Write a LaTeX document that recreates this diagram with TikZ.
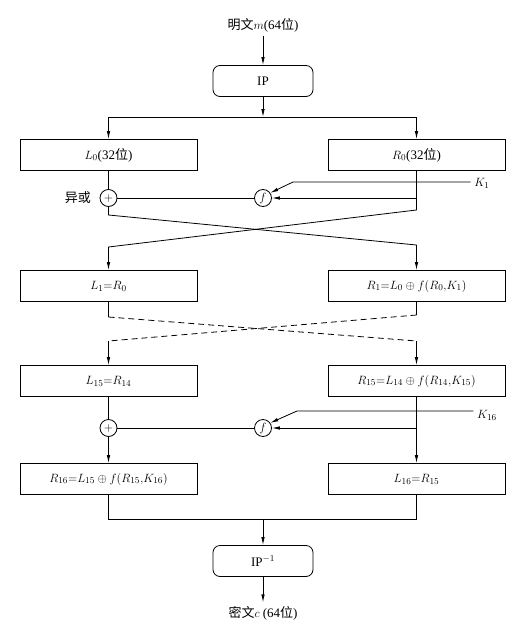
\documentclass[tikz,border=0pt]{standalone}
\usepackage{fontspec}
\setmainfont{Liberation Serif}
\newfontfamily\cjk{Noto Sans CJK SC}
\usetikzlibrary{arrows.meta}
\begin{document}
\begin{tikzpicture}[x=1pt,y=-1pt,line width=0.8pt,
  >={Latex[length=8pt,width=3.5pt]},
  every node/.style={font=\fontsize{13}{15}\selectfont},
  box/.style={draw,minimum width=177pt,minimum height=31pt,inner sep=0pt},
  ipbox/.style={draw,rounded corners=7pt,minimum width=100pt,minimum height=31pt,inner sep=0pt},
  op/.style={draw,circle,minimum size=17pt,inner sep=0pt}]
\useasboundingbox (0,0) rectangle (522,629);
% input and IP
\node (m) at (263,25) {{\cjk 明文}$m$(64{\cjk 位})};
\node[ipbox] (ip) at (263,81) {IP};
\coordinate (split) at (263,117);
\draw[->] (m) -- (ip);
\draw[->] (ip) -- (split);
\node[box] (L0) at (108.5,155) {$L_0$(32{\cjk 位})};
\node[box] (R0) at (416.5,155) {$R_0$(32{\cjk 位})};
\draw[->] (split) -| (L0);
\draw[->] (split) -| (R0);
% round 1
\node[op] (xor1) at (108.5,198) {$+$};
\node[op] (f1) at (263,198) {$f$};
\node[left=5pt] (xorlbl) at (xor1.west) {\cjk 异或};
\node (k1) at (482,183) {$K_1$};
\coordinate (k1b) at (293,182);
\coordinate (b1) at (416.5,198);
\coordinate (l1a) at (108.5,215);
\coordinate (l1b) at (416.5,245);
\coordinate (r1a) at (416.5,210);
\coordinate (r1b) at (108.5,247);
\node[box] (L1) at (108.5,286) {$L_1{=}R_0$};
\node[box] (R1) at (416.5,286) {$R_1{=}L_0\oplus f(R_0{,}K_1)$};
\draw (L0) -- (xor1);
\draw (xor1) -- (f1);
\draw[->] (b1) -- (f1);
\draw[->] (k1.west |- k1b) -- (k1b) -- (f1.35);
\draw[->] (xor1) -- (l1a) -- (l1b) -- (R1);
\draw[->] (R0) -- (r1a) -- (r1b) -- (L1);
% rounds 2..15
\coordinate (d1a) at (108.5,317);
\coordinate (d1b) at (416.5,341);
\coordinate (d2a) at (416.5,315);
\coordinate (d2b) at (108.5,341);
\node[box] (L15) at (108.5,381) {$L_{15}{=}R_{14}$};
\node[box] (R15) at (416.5,381) {$R_{15}{=}L_{14}\oplus f(R_{14}{,}K_{15})$};
\draw (L1) -- (d1a);
\draw[dashed,dash pattern=on 6pt off 4pt] (d1a) -- (d1b);
\draw[->] (d1b) -- (R15);
\draw (R1) -- (d2a);
\draw[dashed,dash pattern=on 6pt off 4pt] (d2a) -- (d2b);
\draw[->] (d2b) -- (L15);
% round 16
\node[op] (xor16) at (108.5,428) {$+$};
\node[op] (f16) at (263,428) {$f$};
\node (k16) at (487,415) {$K_{16}$};
\coordinate (k16b) at (297,411);
\coordinate (b16) at (416.5,428);
\node[box] (R16) at (108.5,479) {$R_{16}{=}L_{15}\oplus f(R_{15}{,}K_{16})$};
\node[box] (L16) at (416.5,479) {$L_{16}{=}R_{15}$};
\draw (L15) -- (xor16);
\draw (xor16) -- (f16);
\draw[->] (xor16) -- (R16);
\draw[->] (R15) -- (L16);
\draw[->] (b16) -- (f16);
\draw[->] (k16.west |- k16b) -- (k16b) -- (f16.35);
% output
\coordinate (join) at (263,519);
\node[ipbox] (ipinv) at (263,561) {IP$^{-1}$};
\node (c) at (263,613) {{\cjk 密文}$c$ (64{\cjk 位})};
\draw (R16) |- (join);
\draw (L16) |- (join);
\draw[->] (join) -- (ipinv);
\draw[->] (ipinv) -- (c);
\end{tikzpicture}
\end{document}
